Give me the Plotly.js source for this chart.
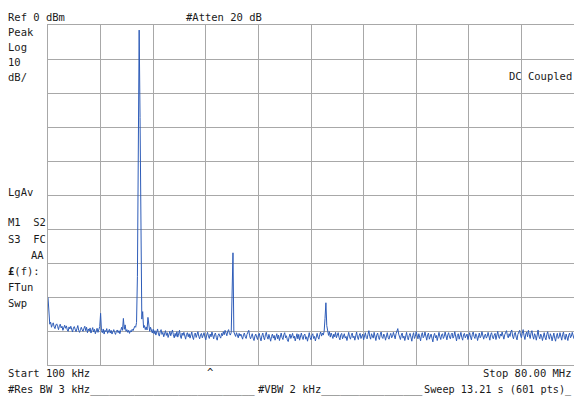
<!DOCTYPE html>
<html>
<head>
<meta charset="utf-8">
<script src="https://cdn.plot.ly/plotly-3.0.1.min.js"></script>
<style>html,body{margin:0;padding:0;background:#fff;}</style>
</head>
<body>
<div id="chart" style="width:574px;height:400px;"></div>
<script>
// Sweep settings (MHz)
const startMHz = 0.1;
const stopMHz = 80.0;
const nPts = 601;

// Trace amplitude in dBm, 601 sweep points
const amplitudeDbm = [
-80.1,-86.6,-88.0,-87.4,-88.9,-88.1,-87.6,-88.8,-89.3,-88.2,-87.9,-88.7,-89.6,-88.4,-88.0,-89.1,-88.6,-89.8,-88.9,-88.3,
-89.2,-88.5,-89.7,-90.1,-88.8,-89.4,-88.6,-89.9,-90.3,-89.1,-88.7,-89.5,-90.2,-89.3,-88.4,-89.8,-90.4,-89.6,-88.9,-89.7,
-90.1,-89.2,-88.6,-89.9,-88.9,-90.5,-89.4,-90.0,-89.1,-90.6,-89.7,-89.0,-90.3,-89.5,-90.8,-89.9,-89.2,-90.4,-89.6,-88.7,
-84.8,-89.9,-90.5,-89.4,-90.9,-89.8,-90.2,-89.3,-90.7,-90.0,-89.5,-90.6,-89.8,-90.9,-90.2,-89.6,-90.4,-91.0,-90.1,-89.7,
-90.5,-89.9,-90.8,-89.4,-88.9,-89.8,-86.3,-89.5,-88.2,-90.1,-89.6,-90.4,-89.8,-90.7,-89.9,-90.3,-89.5,-89.9,-89.1,-88.6,
-88.9,-87.5,-74.0,-33.1,-1.5,-27.2,-67.0,-86.5,-84.3,-89.0,-88.4,-89.6,-88.8,-89.7,-86.0,-89.4,-90.1,-88.9,-89.8,-90.6,
-89.5,-90.8,-89.9,-91.2,-90.3,-89.4,-90.9,-91.5,-90.2,-89.6,-91.0,-90.4,-91.7,-90.6,-89.9,-91.3,-90.5,-91.9,-90.8,-90.1,
-91.4,-90.3,-89.7,-91.1,-92.0,-90.7,-91.6,-90.2,-91.8,-90.9,-89.8,-91.5,-92.2,-90.6,-91.3,-90.4,-91.9,-92.4,-91.0,-90.5,
-91.7,-90.8,-92.1,-91.2,-90.3,-91.8,-92.5,-91.0,-90.6,-91.9,-91.3,-90.2,-91.6,-92.3,-91.1,-90.7,-92.0,-91.4,-90.5,-91.8,
-92.6,-91.2,-90.4,-91.5,-92.2,-90.9,-91.7,-90.3,-91.4,-92.3,-91.0,-90.6,-91.9,-92.7,-91.3,-90.8,-91.6,-92.1,-90.7,-91.4,
-90.2,-91.1,-89.8,-90.6,-91.4,-90.1,-89.6,-90.8,-91.2,-90.4,-79.5,-67.0,-90.3,-90.9,-91.6,-90.5,-91.3,-92.0,-90.7,-91.5,
-90.9,-91.8,-92.4,-91.1,-90.6,-91.7,-92.2,-91.0,-90.5,-89.8,-91.4,-92.3,-91.6,-90.8,-92.1,-92.8,-91.5,-90.9,-91.8,-92.5,
-91.2,-90.7,-92.0,-92.9,-91.4,-90.6,-91.9,-92.6,-91.1,-90.4,-91.7,-92.4,-91.0,-92.2,-93.0,-91.6,-90.9,-92.1,-91.3,-92.7,
-91.5,-90.8,-92.3,-91.2,-92.8,-91.7,-90.6,-91.9,-92.5,-91.1,-90.5,-92.0,-91.4,-92.6,-93.1,-91.8,-90.9,-92.2,-91.3,-90.7,
-92.1,-91.5,-92.9,-91.6,-90.8,-92.3,-91.0,-92.7,-91.9,-90.6,-91.8,-92.5,-91.2,-90.9,-92.4,-91.7,-93.0,-91.4,-90.5,-91.9,
-92.6,-91.3,-90.8,-92.2,-91.6,-92.9,-91.1,-90.7,-91.8,-92.4,-91.0,-90.3,-91.5,-90.6,-91.2,-90.1,-86.3,-81.7,-88.4,-90.5,
-91.3,-90.2,-91.8,-90.6,-91.5,-92.2,-90.9,-91.7,-90.4,-92.0,-91.2,-90.5,-91.9,-92.6,-91.1,-90.7,-92.3,-91.4,-90.8,-92.1,
-91.6,-92.8,-91.0,-90.4,-91.7,-92.4,-91.3,-90.6,-92.0,-91.5,-92.7,-91.1,-90.3,-91.8,-92.5,-91.2,-90.7,-92.2,-91.4,-90.9,
-92.6,-91.3,-90.5,-91.9,-92.3,-91.0,-89.9,-91.6,-92.4,-90.8,-91.5,-92.1,-90.4,-91.7,-92.8,-91.2,-90.6,-91.9,-92.5,-91.1,
-90.3,-91.8,-92.2,-90.9,-91.4,-92.7,-91.0,-90.5,-91.9,-92.4,-91.3,-90.7,-92.0,-91.6,-90.4,-91.8,-92.3,-90.8,-90.1,-89.3,
-90.9,-91.7,-92.5,-91.2,-90.6,-92.1,-91.5,-92.8,-91.0,-90.4,-91.9,-92.6,-91.3,-90.7,-91.8,-93.0,-91.4,-90.5,-92.2,-91.6,
-90.2,-91.4,-92.3,-90.8,-91.7,-92.9,-91.1,-90.5,-92.0,-91.5,-90.3,-91.9,-92.7,-91.2,-90.6,-92.4,-91.8,-90.9,-92.1,-93.2,
-91.4,-90.7,-92.0,-91.3,-92.8,-91.0,-90.4,-91.7,-92.5,-91.1,-90.8,-92.2,-91.6,-90.3,-91.9,-92.6,-91.2,-90.5,-91.8,-92.3,
-91.0,-90.6,-92.1,-91.5,-90.2,-91.7,-92.9,-91.3,-90.8,-92.4,-91.6,-90.4,-91.9,-92.7,-91.1,-90.7,-92.0,-91.4,-90.9,-92.5,
-91.2,-90.5,-91.8,-92.6,-91.0,-90.3,-91.6,-92.2,-90.8,-91.4,-92.8,-91.1,-90.6,-92.0,-91.5,-90.2,-91.7,-92.4,-91.3,-90.9,
-92.1,-91.6,-90.4,-91.9,-92.7,-91.0,-90.5,-91.8,-92.3,-91.2,-90.7,-92.5,-91.4,-90.1,-91.7,-92.2,-90.9,-91.5,-90.3,-91.8,
-92.4,-91.1,-90.6,-89.9,-91.3,-92.0,-90.8,-91.6,-90.2,-89.7,-91.5,-92.3,-90.9,-90.4,-91.8,-92.6,-91.0,-90.5,-89.8,-91.2,
-92.0,-90.7,-89.6,-91.4,-92.5,-90.9,-90.3,-91.7,-89.8,-91.1,-92.2,-90.6,-89.9,-91.5,-92.4,-90.8,-91.3,-92.7,-90.4,-89.7,
-91.6,-92.3,-90.9,-91.4,-92.8,-91.2,-90.5,-91.9,-92.6,-91.0,-90.2,-91.7,-92.4,-90.8,-91.5,-92.9,-91.3,-90.6,-92.1,-93.0,
-91.4,-90.7,-92.2,-91.8,-90.5,-91.6,-92.7,-91.1,-90.3,-91.9,-92.5,-90.9,-91.6,-92.8,-91.2,-90.6,-92.0,-91.5,-90.4,-91.8,
-92.3
];

// Screen annotation texts
const headerLeft = "Ref 0 dBm";
const headerMid = "#Atten 20 dB";
const sideLabels = ["Peak", "Log", "10", "dB/"];
const coupling = "DC Coupled";
const sideLabels2 = ["LgAv", "M1  S2", "S3  FC", "AA", "<b>£</b>(f):", "FTun", "Swp"];
const startLabel = "Start 100 kHz";
const stopLabel = "Stop 80.00 MHz";
const caret = "^";
const resBw = "#Res BW 3 kHz" + "_".repeat(26);
const vbw = "#VBW 2 kHz" + "_".repeat(16);
const sweep = "Sweep 13.21 s (601 pts)_";

// layout geometry helpers (pixels -> paper)
const L = 48, R = 0, T = 25, B = 35, W = 574, H = 400;
const pw = W - L - R, ph = H - T - B;
const px = v => (v - L) / pw;
const py = v => (H - B - v) / ph;

const FONT = {family: "DejaVu Sans Mono, monospace", size: 10.5, color: "#1a1a1a"};
const FONT_S = {family: "DejaVu Sans Mono, monospace", size: 10.2, color: "#1a1a1a"};

function ann(text, x, y, xanchor, font) {
  return {text: text, xref: "paper", yref: "paper", x: px(x), y: py(y),
          xanchor: xanchor || "left", yanchor: "middle", showarrow: false,
          font: font || FONT, borderpad: 0};
}

const annotations = [
  ann(headerLeft, 7, 16.5),
  ann(headerMid, 185, 16.5),
  ann(sideLabels[0], 7, 31.5),
  ann(sideLabels[1], 7, 47),
  ann(sideLabels[2], 7, 62),
  ann(sideLabels[3], 7, 77),
  ann(coupling, 573, 76, "right"),
  ann(sideLabels2[0], 7, 191.5),
  ann(sideLabels2[1], 7, 222.5),
  ann(sideLabels2[2], 7, 239),
  ann(sideLabels2[3], 30, 255),
  ann(sideLabels2[4], 7, 271),
  ann(sideLabels2[5], 7, 287),
  ann(sideLabels2[6], 7, 303),
  ann(startLabel, 7, 373),
  ann(caret, 206, 372),
  ann(stopLabel, 573, 373, "right"),
  ann(resBw, 7, 389.5),
  ann(vbw, 257, 389.5),
  ann(sweep, 572.5, 389.5, "right", FONT_S)
];

const trace = {
  type: "scatter", mode: "lines",
  x0: startMHz, dx: (stopMHz - startMHz) / (nPts - 1),
  y: amplitudeDbm,
  line: {color: "#2e5cb8", width: 1},
  hoverinfo: "skip"
};

const gridColor = "#a8a8a8";
const layout = {
  width: W, height: H,
  margin: {l: L, r: R, t: T, b: B, pad: 0},
  paper_bgcolor: "#ffffff", plot_bgcolor: "#ffffff",
  showlegend: false,
  xaxis: {range: [startMHz, stopMHz], tick0: startMHz, dtick: (stopMHz - startMHz) / 10,
          showgrid: true, gridcolor: gridColor, gridwidth: 1, zeroline: false,
          showticklabels: false, ticks: "", showline: true, mirror: true,
          linecolor: gridColor, linewidth: 1, fixedrange: true},
  yaxis: {range: [-100, 0], tick0: 0, dtick: 10,
          showgrid: true, gridcolor: gridColor, gridwidth: 1, zeroline: false,
          showticklabels: false, ticks: "", showline: true, mirror: true,
          linecolor: gridColor, linewidth: 1, fixedrange: true},
  annotations: annotations
};

Plotly.newPlot("chart", [trace], layout, {staticPlot: true, displayModeBar: false});
</script>
</body>
</html>
